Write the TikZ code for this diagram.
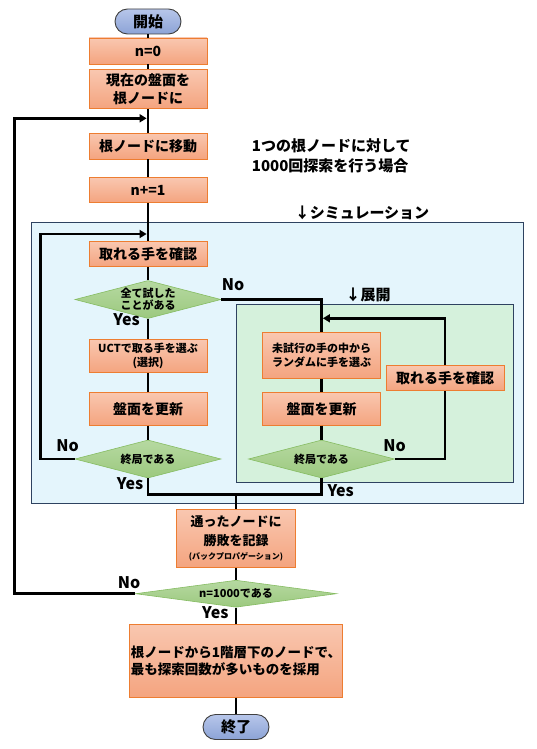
\documentclass[tikz,border=0pt]{standalone}
\usepackage{fontspec}
\setmainfont{Noto Sans CJK JP}
\usetikzlibrary{shapes.geometric,arrows.meta}
\definecolor{procline}{HTML}{ED7D31}
\definecolor{proctop}{HTML}{F9C7B0}
\definecolor{procbot}{HTML}{F4A47F}
\definecolor{decline}{HTML}{86BC62}
\definecolor{dectop}{HTML}{B6D9A1}
\definecolor{decbot}{HTML}{9CC97F}
\definecolor{termtop}{HTML}{B7C6EA}
\definecolor{termbot}{HTML}{8CA3D6}
\definecolor{simfill}{HTML}{E4F5FC}
\definecolor{expfill}{HTML}{D5F1DC}
\definecolor{arealine}{HTML}{2E4260}

\begin{document}
\begin{tikzpicture}[x=1pt,y=-1pt,
   procbox/.style={draw=procline,line width=0.9pt,top color=proctop,bottom color=procbot,
     minimum width=118pt,inner sep=1pt,align=center,font=\fontsize{14}{18}\selectfont\bfseries},
   smallproc/.style={procbox,font=\fontsize{11}{14}\selectfont\bfseries},
   decbox/.style={diamond,draw=decline,line width=0.6pt,top color=dectop,bottom color=decbot,
     inner sep=0pt,aspect=3.85,minimum width=146pt,minimum height=38pt,align=center,
     font=\fontsize{11}{12.5}\selectfont\bfseries},
   term/.style={draw=black!75,line width=0.9pt,rounded corners=12.5pt,top color=termtop,
     bottom color=termbot,minimum width=66pt,minimum height=25pt,
     font=\fontsize{15}{18}\selectfont\bfseries},
   answer/.style={font=\fontsize{16}{18}\selectfont\bfseries,inner sep=0pt},
   heading/.style={font=\fontsize{15}{20}\selectfont\bfseries,inner sep=0pt},
   flow/.style={line width=2.8pt},
   flowarrow/.style={flow,-{Triangle[length=7pt,width=8pt]},shorten >=1.4pt}]
\useasboundingbox (0,0) rectangle (537,749);
\fill[white] (0,0) rectangle (537,749);

\draw[fill=simfill,draw=arealine,line width=0.9pt] (31,222) rectangle (523,503);
\draw[fill=expfill,draw=arealine,line width=0.9pt] (236.3,304.3) rectangle (513.7,482.3);
\node[heading] (simlabel) at (362,213) {↓シミュレーション};
\node[heading] (explabel) at (368,295) {↓展開};
\node[heading,anchor=west,align=left] (memo) at (251.7,155.5) {1つの根ノードに対して\\1000回探索を行う場合};

\node[term] (start) at (148,21.5) {開始};
\node[procbox,minimum height=26pt] (init) at (148,51) {n=0};
\node[procbox,minimum height=39pt] (root) at (148,89) {現在の盤面を\\根ノードに};
\node[procbox,minimum height=26pt] (move) at (148,146) {根ノードに移動};
\node[procbox,minimum height=25pt] (count) at (148,190) {n+=1};
\node[procbox,minimum height=25pt] (moves) at (148,254) {取れる手を確認};
\node[decbox,font=\fontsize{11}{12}\selectfont\bfseries] (tried) at (148,299.5) {全て試した\\ことがある};
\node[smallproc,minimum height=33pt] (select) at (148,356) {UCTで取る手を選ぶ\\(選択)};
\node[procbox,minimum height=33pt] (updL) at (148,408.7) {盤面を更新};
\node[decbox] (endL) at (148,459) {終局である};
\node[smallproc,minimum height=46pt] (rand) at (321.5,355.5) {未試行の手の中から\\ランダムに手を選ぶ};
\node[procbox,minimum height=33pt] (updR) at (321.5,408.7) {盤面を更新};
\node[decbox] (endR) at (321.5,459) {終局である};
\node[procbox,minimum height=25pt] (movesR) at (445,378) {取れる手を確認};
\node[procbox,minimum width=119pt,minimum height=58pt,font=\fontsize{13}{18.5}\selectfont\bfseries] (back) at (236,538.5)
   {通ったノードに\\勝敗を記録\\[-4pt]{\fontsize{8}{10}\selectfont (バックプロパゲーション)}};
\node[decbox,aspect=7.4,minimum width=201pt,minimum height=27pt] (done) at (236,593.7) {n=1000である};
\node[procbox,minimum width=212pt,minimum height=73pt,align=left,font=\fontsize{13.5}{17}\selectfont\bfseries] (best) at (236,660.7)
   {根ノードから1階層下のノードで、\\最も探索回数が多いものを採用};
\node[term] (stop) at (236,727) {終了};

\node[answer] (noTried) at (233,285) {No};
\node[answer] (yesTried) at (126.5,320) {Yes};
\node[answer] (noEndL) at (67.6,446) {No};
\node[answer] (yesEndL) at (130,484) {Yes};
\node[answer] (noEndR) at (394.7,446) {No};
\node[answer] (yesEndR) at (340.7,491) {Yes};
\node[answer] (noDone) at (129,583) {No};
\node[answer] (yesDone) at (215.4,613) {Yes};

\coordinate (joinA) at (148,118.3);
\coordinate (joinB) at (148,234);
\coordinate (joinC) at (321.5,318.3);
\coordinate (merge) at (236,494.3);

\draw[flow] (start) -- (init);
\draw[flow] (init) -- (root);
\draw[flow] (root) -- (move);
\draw[flow] (move) -- (count);
\draw[flow] (count) -- (moves);
\draw[flow] (moves) -- (tried);
\draw[flow] (tried) -- (select);
\draw[flow] (select) -- (updL);
\draw[flow] (updL) -- (endL);
\draw[flowarrow] (endL.west) -- ++(-34,0) |- (joinB);
\draw[flow] (tried.east) -| (rand.north);
\draw[flow] (rand) -- (updR);
\draw[flow] (updR) -- (endR);
\draw[flow] (endR.east) -| (movesR.south);
\draw[flowarrow] (movesR.north) |- (joinC);
\draw[flow] (endL.south) |- (merge) -| (endR.south);
\draw[flow] (merge) -- (back);
\draw[flow] (back) -- (done);
\draw[flowarrow] (done.west) -- ++(-120.5,0) |- (joinA);
\draw[flow] (done) -- (best);
\draw[flow] (best) -- (stop);
\end{tikzpicture}
\end{document}
